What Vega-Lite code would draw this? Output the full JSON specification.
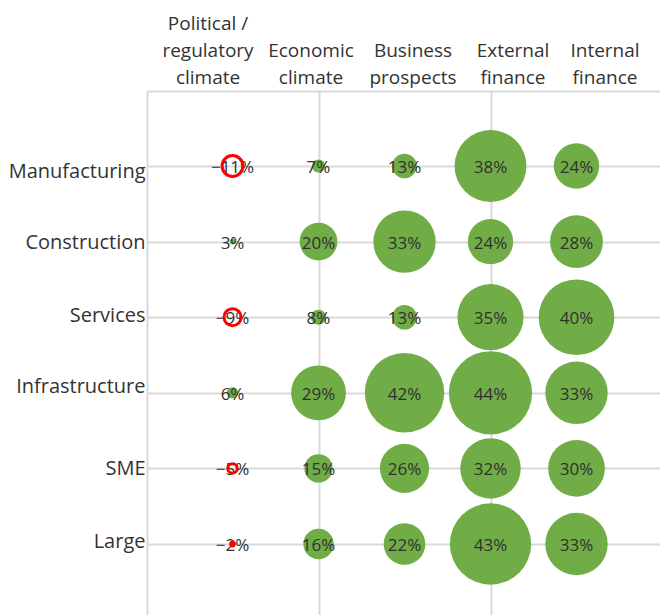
{
  "$schema": "https://vega.github.io/schema/vega-lite/v6.json",
  "autosize": {"type": "none"},
  "padding": {"left": 147, "top": 91, "right": 0, "bottom": 0},
  "width": 513,
  "height": 524,
  "config": {"view": {"stroke": null}, "font": "Open Sans"},
  "data": {
    "values": [
      {"sector": "Manufacturing", "factor": "Political / regulatory climate", "value": -0.11},
      {"sector": "Construction", "factor": "Political / regulatory climate", "value": 0.03},
      {"sector": "Services", "factor": "Political / regulatory climate", "value": -0.09},
      {"sector": "Infrastructure", "factor": "Political / regulatory climate", "value": 0.06},
      {"sector": "SME", "factor": "Political / regulatory climate", "value": -0.05},
      {"sector": "Large", "factor": "Political / regulatory climate", "value": -0.02},
      {"sector": "Manufacturing", "factor": "Economic climate", "value": 0.07},
      {"sector": "Construction", "factor": "Economic climate", "value": 0.20},
      {"sector": "Services", "factor": "Economic climate", "value": 0.08},
      {"sector": "Infrastructure", "factor": "Economic climate", "value": 0.29},
      {"sector": "SME", "factor": "Economic climate", "value": 0.15},
      {"sector": "Large", "factor": "Economic climate", "value": 0.16},
      {"sector": "Manufacturing", "factor": "Business prospects", "value": 0.13},
      {"sector": "Construction", "factor": "Business prospects", "value": 0.33},
      {"sector": "Services", "factor": "Business prospects", "value": 0.13},
      {"sector": "Infrastructure", "factor": "Business prospects", "value": 0.42},
      {"sector": "SME", "factor": "Business prospects", "value": 0.26},
      {"sector": "Large", "factor": "Business prospects", "value": 0.22},
      {"sector": "Manufacturing", "factor": "External finance", "value": 0.38},
      {"sector": "Construction", "factor": "External finance", "value": 0.24},
      {"sector": "Services", "factor": "External finance", "value": 0.35},
      {"sector": "Infrastructure", "factor": "External finance", "value": 0.44},
      {"sector": "SME", "factor": "External finance", "value": 0.32},
      {"sector": "Large", "factor": "External finance", "value": 0.43},
      {"sector": "Manufacturing", "factor": "Internal finance", "value": 0.24},
      {"sector": "Construction", "factor": "Internal finance", "value": 0.28},
      {"sector": "Services", "factor": "Internal finance", "value": 0.40},
      {"sector": "Infrastructure", "factor": "Internal finance", "value": 0.33},
      {"sector": "SME", "factor": "Internal finance", "value": 0.30},
      {"sector": "Large", "factor": "Internal finance", "value": 0.33}
    ]
  },
  "encoding": {
    "x": {
      "field": "factor", "type": "nominal",
      "scale": {"type": "point", "domain": ["Political / regulatory climate", "Economic climate", "Business prospects", "External finance", "Internal finance"], "padding": 0.9826, "align": 0.506},
      "axis": {
        "orient": "top", "title": null, "domain": true, "domainColor": "#d9d9d9", "domainWidth": 2,
        "ticks": false, "labelAngle": 0, "labelFont": "Open Sans", "labelFontSize": 19, "labelColor": "#333333",
        "labelLineHeight": 27, "labelBaseline": "top", "labelPadding": 77,
        "labelOffset": {"condition": [
          {"test": "datum.value == 'Political / regulatory climate'", "value": -25},
          {"test": "datum.value == 'Economic climate'", "value": -8},
          {"test": "datum.value == 'Business prospects'", "value": 8},
          {"test": "datum.value == 'External finance'", "value": 22}
        ], "value": 28},
        "labelExpr": "datum.value == 'Political / regulatory climate' ? ['Political /', 'regulatory', 'climate'] : datum.value == 'Economic climate' ? ['', 'Economic', 'climate'] : datum.value == 'Business prospects' ? ['', 'Business', 'prospects'] : datum.value == 'External finance' ? ['', 'External', 'finance'] : ['', 'Internal', 'finance']",
        "grid": true, "gridColor": "#d9d9d9", "gridWidth": 2,
        "gridOpacity": {"condition": {"test": "datum.value == 'Economic climate' || datum.value == 'External finance'", "value": 1}, "value": 0}
      }
    },
    "y": {
      "field": "sector", "type": "nominal",
      "scale": {"type": "point", "domain": ["Manufacturing", "Construction", "Services", "Infrastructure", "SME", "Large"], "padding": 0.9656, "align": 0.5137},
      "axis": {
        "title": null, "domain": true, "domainColor": "#d9d9d9", "domainWidth": 2, "ticks": false,
        "labelFont": "Open Sans", "labelFontSize": 20, "labelColor": "#333333", "labelPadding": 2,
        "labelOffset": {"condition": [
          {"test": "datum.value == 'Manufacturing'", "value": 6},
          {"test": "datum.value == 'Construction'", "value": 1},
          {"test": "datum.value == 'Services'", "value": -2},
          {"test": "datum.value == 'Infrastructure'", "value": -6},
          {"test": "datum.value == 'Large'", "value": -3}
        ], "value": 0},
        "grid": true, "gridColor": "#d9d9d9", "gridWidth": 2
      }
    }
  },
  "layer": [
    {
      "transform": [{"filter": "datum.value >= 0"}],
      "mark": {"type": "circle", "color": "#70AD47", "opacity": 1},
      "encoding": {
        "size": {"field": "value", "type": "quantitative", "scale": {"type": "pow", "exponent": 2, "domain": [0, 0.44], "range": [0, 6922]}, "legend": null}
      }
    },
    {
      "mark": {"type": "text", "font": "Open Sans", "fontSize": 17, "color": "#303030", "dy": 2},
      "encoding": {
        "text": {"field": "value", "type": "quantitative", "format": ".0%"}
      }
    },
    {
      "transform": [{"filter": "datum.value < 0"}],
      "mark": {"type": "point", "shape": "circle", "filled": false, "stroke": "#FF0000", "strokeWidth": 3, "opacity": 1},
      "encoding": {
        "size": {"field": "value", "type": "quantitative", "scale": {"type": "pow", "exponent": 2, "domain": [0, -0.44], "range": [0, 6922]}, "legend": null}
      }
    }
  ],
  "resolve": {"scale": {"size": "independent"}}
}
